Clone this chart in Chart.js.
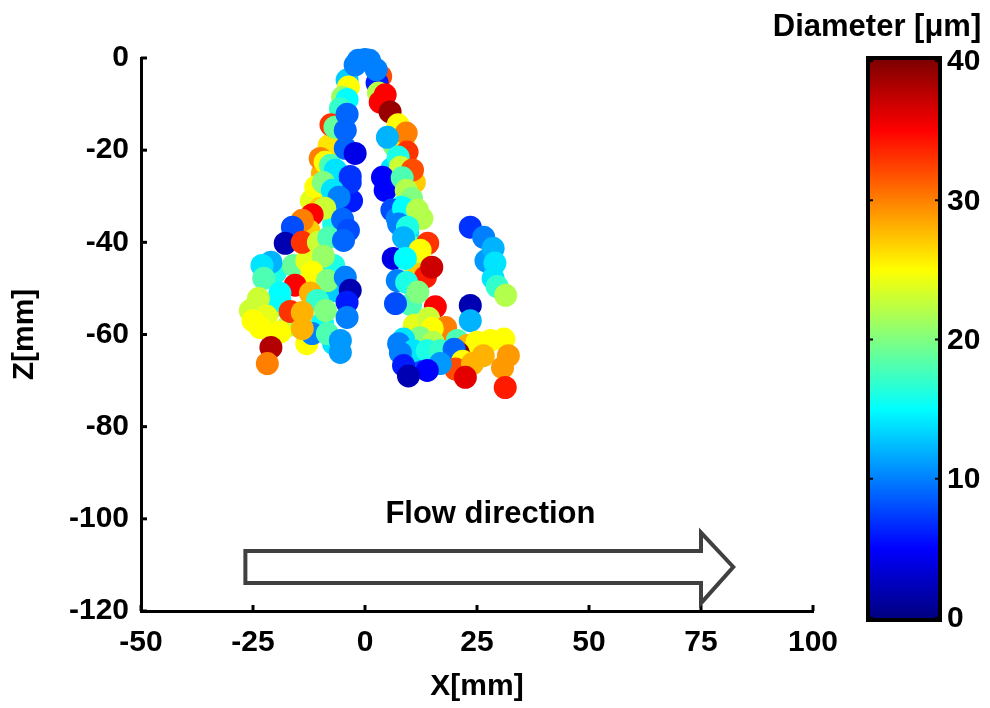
<!DOCTYPE html>
<html>
<head>
<meta charset="utf-8">
<script src="https://cdn.jsdelivr.net/npm/chart.js@4.4.1/dist/chart.umd.min.js"></script>
<style>
  html, body { margin: 0; padding: 0; background: #fff; }
  #wrap { width: 990px; height: 708px; }
</style>
</head>
<body>
<div id="wrap"><canvas id="chart" width="990" height="708"></canvas></div>
<script>
// droplet positions (mm) and diameters (um)
const xValues = [
  3.5, 2.7, 3.0, 4.5, 3.4, 5.6, -4.0, -3.7, -5.0, -4.0, -1.5, 1.0, -2.2, 2.5, 0.0,
  -5.5, -6.0, -8.0, -9.5, -8.0, -12.0, -6.5, -7.0, -3.0,
  -7.6, -6.7, -4.0, -4.4, -10.0, -8.9, -7.7, -6.6, -4.4, -2.2, -3.3, -3.3, -11.0, -9.3, -7.3, -5.8, -10.0, -9.0, -11.8, -5.0,
  6.5, 8.5, 6.0, 11.0, 9.5, 10.5, 11.0, 12.0, 10.2,
  7.4, 9.2, 5.0, 9.4, 7.4, 7.9, 10.6, 3.9, 4.5, 8.3, 9.2, 10.4, 8.0, 6.0, 7.2, 10.1, 12.7,
  -12.5, -20.0, -16.0, -13.0, -7.0, -6.5, -20.5, -17.0, -9.5, -7.0, -13.0,
  -14.0, -16.2, -17.8, -14.0, -10.4, -8.1, -3.7, -4.8, -9.3, -21.0, -23.0, -22.6, -11.8, -8.4, -4.4, -15.6, -3.3, -12.2,
  -19.0, -10.6, -19.0, -23.8, -4.0, -16.7, -14.0, -8.8, -4.0, -25.6, -22.0, -25.0, -11.8, -19.0, -23.4, -14.0, -8.4, -5.5,
  -21.0, -5.5, -21.8,
  8.6, 11.7, 7.5, 9.5, 8.6, 14.0, 12.3, 6.3, 9.0, 13.5, 14.9, 7.2, 9.3, 11.8, 6.8,
  23.5, 26.5, 27.0, 28.6, 29.0, 28.6, 29.5, 31.4, 23.5, 23.5,
  11.0, 18.5, 17.5, 11.0, 15.0,
  15.7, 14.2, 16.0, 18.0, 15.0, 12.3, 8.6, 7.5, 15.2, 10.8, 13.9, 16.8, 7.9, 20.6, 22.8, 25.0, 28.0, 31.0,
  20.8, 19.9, 26.4, 32.0, 21.8, 20.2, 24.0, 30.7, 31.3, 22.4, 8.6, 16.8, 13.9, 9.7
];
const zValues = [
  -4.0, -5.4, -7.6, -8.0, -9.6, -11.7, -4.8, -6.3, -8.5, -9.0, -0.5, -0.5, -1.5, -2.5, -0.3,
  -11.0, -18.0, -19.0, -25.0, -30.0, -31.0, -33.0, -36.0, -31.0,
  -14.5, -15.0, -12.2, -15.7, -21.8, -22.6, -23.3, -24.3, -19.6, -20.7, -25.7, -27.0, -28.0, -27.0, -28.7, -30.2, -32.6, -32.6, -34.0, -35.0,
  -19.0, -18.5, -24.0, -27.0, -38.0, -41.0, -45.0, -47.0, -53.5,
  -14.5, -16.3, -17.2, -20.4, -21.5, -23.7, -24.3, -25.9, -28.7, -26.0, -28.7, -30.5, -32.4, -33.0, -34.8, -34.5, -34.8,
  -37.5, -46.5, -45.0, -44.0, -45.0, -50.5, -54.0, -58.0, -57.5, -62.0, -62.0,
  -35.2, -36.7, -40.2, -40.0, -40.0, -39.0, -37.4, -39.6, -43.0, -44.3, -45.0, -47.8, -46.5, -48.3, -47.6, -49.3, -50.4, -51.0,
  -51.0, -52.6, -52.6, -52.2, -53.0, -55.0, -55.2, -54.8, -56.3, -54.8, -56.0, -57.0, -59.8, -59.5, -58.5, -58.7, -59.8, -61.3,
  -62.8, -63.9, -66.3,
  -32.6, -33.0, -36.0, -36.7, -39.0, -40.2, -41.7, -43.5, -43.5, -47.5, -45.4, -48.3, -48.7, -50.8, -53.3,
  -36.7, -38.9, -44.0, -41.3, -44.5, -47.8, -49.6, -51.5, -53.7, -57.0,
  -58.0, -60.5, -62.0, -66.0, -65.5,
  -54.0, -56.5, -59.8, -58.5, -58.7, -60.7, -61.0, -62.0, -61.7, -63.5, -63.5, -63.5, -64.0, -61.3, -62.4, -61.7, -61.3, -61.0,
  -64.0, -63.2, -64.6, -64.6, -65.8, -67.5, -66.3, -67.2, -71.5, -69.3, -66.7, -66.3, -67.8, -69.0
];
const diameters = [
  32, 6, 22, 35, 35, 39, 13, 25, 21, 15, 10, 10, 10, 10, 10,
  17, 22, 26, 28, 19, 24, 12, 16, 6,
  33, 19, 9, 9, 30, 25, 18, 14, 9, 4, 7, 7, 25, 20, 14, 10, 27, 23, 35, 9,
  20, 26, 14, 27, 14, 18, 22, 27, 18,
  25, 30, 12, 33, 16, 23, 32, 5, 5, 18, 22, 20, 15, 8, 10, 15, 22,
  27, 16, 19, 24, 16, 13, 20, 22, 15, 14, 25,
  30, 8, 2, 33, 23, 18, 8, 9, 21, 12, 14, 18, 25, 20, 10, 35, 2, 28,
  15, 17, 15, 23, 6, 33, 28, 20, 10, 23, 24, 25, 10, 25, 25, 28, 18, 11,
  38, 11, 30,
  15, 22, 10, 16, 12, 33, 25, 4, 15, 34, 37, 10, 16, 20, 8,
  7, 10, 11, 12, 14, 14, 17, 22, 2, 12,
  24, 22, 20, 8, 12,
  35, 23, 30, 30, 25, 20, 14, 10, 22, 14, 16, 17, 10, 18, 28, 25, 25, 25,
  40, 9, 28, 29, 25, 32, 28, 29, 34, 36, 6, 11, 5, 2
];

const xTicks = [-50, -25, 0, 25, 50, 75, 100];
const zTicks = [-120, -100, -80, -60, -40, -20, 0];
const colorbarTicks = [0, 10, 20, 30, 40];
const diameterRange = [0, 40];

// flow arrow, in axis units
const arrowTailX = -26.7, arrowHeadX = 75, arrowTipX = 82.2;
const arrowBodyTop = -107, arrowBodyBottom = -113.9;
const arrowHeadTop = -103, arrowHeadBottom = -118.3;
const flowLabelX = 28, flowLabelZ = -99;

const FONT = "'Liberation Sans', Arial, Helvetica, sans-serif";

// MATLAB style jet colormap
function jet(d) {
  const t = (d - diameterRange[0]) / (diameterRange[1] - diameterRange[0]);
  const c = v => Math.round(255 * Math.min(1, Math.max(0, v)));
  const r = c(1.5 - Math.abs(4 * t - 3));
  const g = c(1.5 - Math.abs(4 * t - 2));
  const b = c(1.5 - Math.abs(4 * t - 1));
  return `rgb(${r},${g},${b})`;
}

const points = xValues.map((x, i) => ({ x: x, y: zValues[i] }));

// inward ticks, arrow, colorbar, labels
const decorPlugin = {
  id: 'decor',
  afterDraw(chart) {
    const { ctx, chartArea, scales: { x, y } } = chart;
    ctx.save();

    // inward tick marks
    ctx.strokeStyle = '#000';
    ctx.lineWidth = 3;
    xTicks.forEach(v => {
      const px = x.getPixelForValue(v);
      ctx.beginPath();
      ctx.moveTo(px, chartArea.bottom);
      ctx.lineTo(px, chartArea.bottom - 6);
      ctx.stroke();
    });
    zTicks.forEach(v => {
      const py = y.getPixelForValue(v);
      ctx.beginPath();
      ctx.moveTo(chartArea.left, py);
      ctx.lineTo(chartArea.left + 6, py);
      ctx.stroke();
    });

    // flow direction arrow
    const ax = v => x.getPixelForValue(v);
    const ay = v => y.getPixelForValue(v);
    ctx.beginPath();
    ctx.moveTo(ax(arrowTailX), ay(arrowBodyTop));
    ctx.lineTo(ax(arrowHeadX), ay(arrowBodyTop));
    ctx.lineTo(ax(arrowHeadX), ay(arrowHeadTop));
    ctx.lineTo(ax(arrowTipX), ay((arrowBodyTop + arrowBodyBottom) / 2));
    ctx.lineTo(ax(arrowHeadX), ay(arrowHeadBottom));
    ctx.lineTo(ax(arrowHeadX), ay(arrowBodyBottom));
    ctx.lineTo(ax(arrowTailX), ay(arrowBodyBottom));
    ctx.closePath();
    ctx.fillStyle = '#fff';
    ctx.fill();
    ctx.strokeStyle = '#404040';
    ctx.lineWidth = 4;
    ctx.lineJoin = 'miter';
    ctx.stroke();

    ctx.fillStyle = '#000';
    ctx.font = `bold 31px ${FONT}`;
    ctx.textAlign = 'center';
    ctx.textBaseline = 'middle';
    ctx.fillText('Flow direction', ax(flowLabelX), ay(flowLabelZ));

    // colorbar
    const cbLeft = 868, cbRight = 940, cbTop = 58, cbBottom = 620;
    const vTop = 61, vBottom = 618;
    const cbY = v => vBottom - (v - diameterRange[0]) / (diameterRange[1] - diameterRange[0]) * (vBottom - vTop);
    const grad = ctx.createLinearGradient(0, vBottom, 0, vTop);
    for (let d = diameterRange[0]; d <= diameterRange[1]; d += 1) {
      grad.addColorStop((d - diameterRange[0]) / (diameterRange[1] - diameterRange[0]), jet(d));
    }
    ctx.fillStyle = grad;
    ctx.fillRect(cbLeft, cbTop, cbRight - cbLeft, cbBottom - cbTop);
    ctx.strokeStyle = '#000';
    ctx.lineWidth = 4;
    ctx.strokeRect(cbLeft, cbTop, cbRight - cbLeft, cbBottom - cbTop);

    ctx.lineWidth = 2;
    colorbarTicks.forEach(v => {
      const py = cbY(v);
      ctx.beginPath();
      ctx.moveTo(cbLeft, py);
      ctx.lineTo(cbLeft + 5, py);
      ctx.moveTo(cbRight, py);
      ctx.lineTo(cbRight - 5, py);
      ctx.stroke();
    });

    ctx.fillStyle = '#000';
    ctx.font = `bold 30px ${FONT}`;
    ctx.textAlign = 'left';
    ctx.textBaseline = 'middle';
    colorbarTicks.forEach(v => {
      ctx.fillText(String(v), cbRight + 7, cbY(v) + 1);
    });

    ctx.textAlign = 'center';
    ctx.font = `bold 31px ${FONT}`;
    ctx.fillText('Diameter [\u03bcm]', 877, 27);

    ctx.restore();
  }
};

new Chart(document.getElementById('chart'), {
  type: 'scatter',
  data: {
    datasets: [{
      data: points,
      pointRadius: 11.5,
      pointHoverRadius: 11.5,
      pointBorderWidth: 0,
      pointBackgroundColor: diameters.map(jet),
      pointBorderColor: diameters.map(jet),
      clip: false
    }]
  },
  options: {
    responsive: false,
    animation: false,
    layout: { padding: { top: 58, right: 177, left: 0, bottom: 0 } },
    plugins: {
      legend: { display: false },
      tooltip: { enabled: false }
    },
    scales: {
      x: {
        type: 'linear',
        min: -50,
        max: 100,
        afterFit: s => { s.height = 97; },
        afterBuildTicks: s => { s.ticks = xTicks.map(v => ({ value: v })); },
        ticks: {
          color: '#000',
          font: { family: FONT, size: 30, weight: 'bold' },
          padding: 14,
          autoSkip: false,
          maxRotation: 0
        },
        grid: { display: true, drawOnChartArea: false, drawTicks: false },
        border: { display: true, color: '#000', width: 3 },
        title: {
          display: true,
          text: 'X[mm]',
          color: '#000',
          font: { family: FONT, size: 30, weight: 'bold' },
          padding: { top: 0, bottom: 3 }
        }
      },
      y: {
        type: 'linear',
        min: -120,
        max: 0,
        afterFit: s => { s.width = 141; },
        afterBuildTicks: s => { s.ticks = zTicks.map(v => ({ value: v })); },
        ticks: {
          color: '#000',
          font: { family: FONT, size: 30, weight: 'bold' },
          padding: 12,
          autoSkip: false
        },
        grid: { display: true, drawOnChartArea: false, drawTicks: false },
        border: { display: true, color: '#000', width: 3 },
        title: {
          display: true,
          text: 'Z[mm]',
          color: '#000',
          font: { family: FONT, size: 30, weight: 'bold' },
          padding: { top: 7, bottom: 0 }
        }
      }
    }
  },
  plugins: [decorPlugin]
});
</script>
</body>
</html>
